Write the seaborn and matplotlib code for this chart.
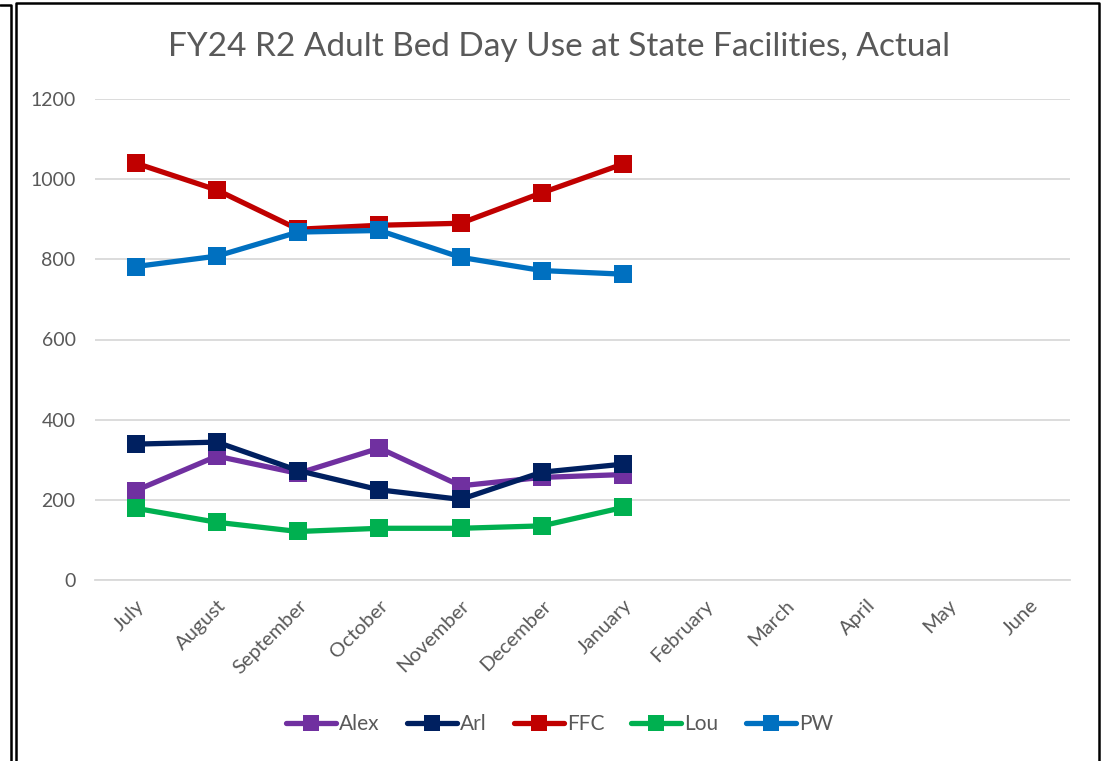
import numpy as np
import pandas as pd
import matplotlib
matplotlib.use("Agg")
import matplotlib.pyplot as plt
from matplotlib.lines import Line2D
from matplotlib.ticker import FixedLocator
import seaborn as sns

# ------------------------------------------
# Data
# ------------------------------------------

months = ["July", "August", "September", "October", "November", "December",
          "January", "February", "March", "April", "May", "June"]

alex = [223, 309, 266, 329, 235, 256, 263]
arl = [339, 344, 273, 225, 201, 269, 289]
ffc = [1040, 973, 875, 885, 890, 966, 1038]
lou = [179, 144, 121, 129, 129, 135, 181]
pw = [782, 808, 868, 872, 805, 772, 763]

series_names = ["Alex", "Arl", "FFC", "Lou", "PW"]
series_values = [alex, arl, ffc, lou, pw]
colors = ["#7030A0", "#002060", "#C00000", "#00B050", "#0070C0"]

rows = []
for name, vals in zip(series_names, series_values):
    for i, v in enumerate(vals):
        rows.append({"Month": months[i], "idx": i, "Site": name, "Beds": v})
df = pd.DataFrame(rows)

# ------------------------------------------
# Plot
# ------------------------------------------

sns.set_style("white")
plt.rcParams["font.family"] = ["Lato", "DejaVu Sans"]

text_color = "#595959"
grid_color = "#D9D9D9"

fig = plt.figure(figsize=(11.08, 7.61), dpi=100)
ax = fig.add_axes([95 / 1108, 1 - 580 / 761, 975 / 1108, 481 / 761])

sns.lineplot(
    data=df, x="idx", y="Beds", hue="Site", hue_order=series_names,
    palette=colors, marker="s", markersize=13, linewidth=3.8,
    markeredgewidth=0, ax=ax, legend=False
)

ax.set_xlim(-0.5, len(months) - 0.5)
ax.set_ylim(0, 1200)
ax.set_yticks(np.arange(0, 1201, 200))
ax.yaxis.grid(True, color=grid_color, linewidth=1.3)
ax.set_axisbelow(True)

for side in ["top", "right", "left"]:
    ax.spines[side].set_visible(False)
ax.spines["bottom"].set_color(grid_color)
ax.spines["bottom"].set_linewidth(1.3)

ax.set_xticks(range(len(months)))
ax.set_xticklabels(months, rotation=45, ha="right", rotation_mode="anchor")
ax.xaxis.set_minor_locator(FixedLocator(np.arange(-0.5, len(months), 1)))
ax.tick_params(axis="x", which="major", length=0, pad=12,
               labelsize=14.5, labelcolor=text_color)
ax.tick_params(axis="x", which="minor", length=6, width=1.3, color=grid_color)
ax.tick_params(axis="y", length=0, pad=14, labelsize=14, labelcolor=text_color)
ax.set_xlabel("")
ax.set_ylabel("")

fig.text(0.505, 1 - 47 / 761, "FY24 R2 Adult Bed Day Use at State Facilities, Actual",
         ha="center", va="center", fontsize=24, color=text_color)

# legend
handles = [Line2D([0], [0], color=c, linewidth=3.8, marker="s",
                  markersize=11, markeredgewidth=0) for c in colors]
fig.legend(handles, series_names, loc="center", bbox_to_anchor=(0.505, 1 - 724 / 761),
           ncol=5, frameon=False, fontsize=15, handlelength=2.4,
           handletextpad=0.15, columnspacing=1.3, labelcolor=text_color)

# chart borders
fig.add_artist(Line2D([0, 11 / 1108, 11 / 1108], [1 - 5 / 761, 1 - 5 / 761, 0],
                      color="black", linewidth=1.8, transform=fig.transFigure))
fig.add_artist(Line2D([16 / 1108, 16 / 1108, 1099 / 1108, 1099 / 1108],
                      [0, 1 - 3 / 761, 1 - 3 / 761, 0],
                      color="black", linewidth=1.8, transform=fig.transFigure))

fig.savefig("out.png", dpi=100)
